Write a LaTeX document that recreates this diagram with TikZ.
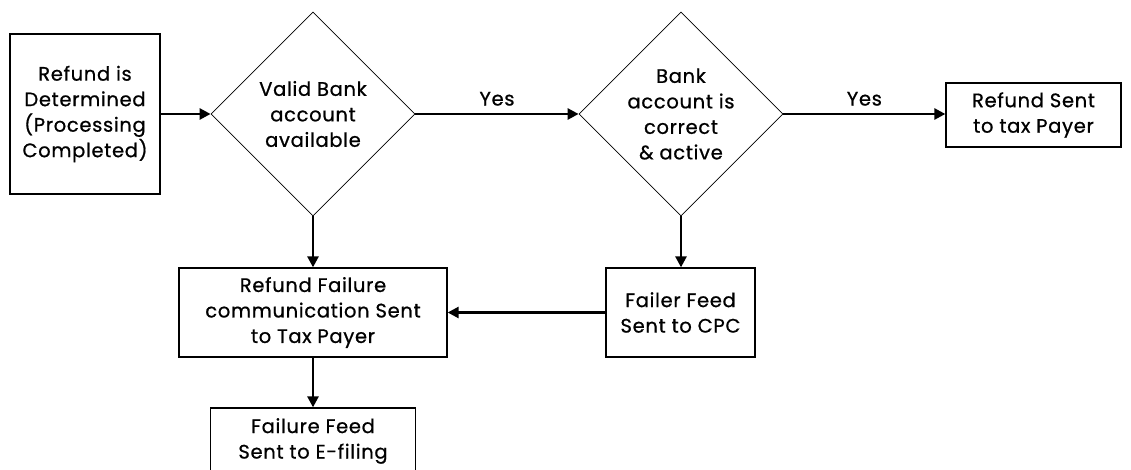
\documentclass[tikz,border=0pt]{standalone}
\usepackage{fontspec}
\setmainfont{Poppins}[LetterSpace=3.5,FakeBold=0.8]
\usetikzlibrary{shapes.geometric,arrows.meta}
\begin{document}
\begin{tikzpicture}[x=1pt,y=-1pt,
  txt/.style={font=\fontsize{19.5}{25.5}\selectfont, align=center, text=black},
  box/.style={txt, draw=black, line width=1.3pt, rectangle, inner sep=0pt},
  decision/.style={txt, draw=black, line width=0.8pt, diamond, shape aspect=1, inner sep=0pt, minimum width=204pt, minimum height=204pt},
  flow/.style={draw=black, line width=2.6pt, -{Triangle[length=11pt,width=11pt]}},
  lbl/.style={txt, inner sep=0pt}]
\useasboundingbox (0,0) rectangle (1131,470);
\clip (0,0) rectangle (1131,470);

\node[box, minimum width=150pt, minimum height=160pt] (start) at (85,114)
  {Refund is\\Determined\\(Processing\\Completed)};
\node[decision] (valid) at (313,114) {Valid Bank\\account\\available};
\node[decision] (correct) at (681,114) {Bank\\account is\\correct\\\& active};
\node[box, minimum width=175pt, minimum height=64pt] (sent) at (1033.5,115)
  {Refund Sent\\to tax Payer};
\node[box, minimum width=268pt, minimum height=89pt] (comm) at (313,312.5)
  {Refund Failure\\communication Sent\\to Tax Payer};
\node[box, minimum width=149pt, minimum height=89pt] (cpc) at (680.5,312.5)
  {Failer Feed\\Sent to CPC};
\node[box, minimum width=205pt, minimum height=66pt] (efile) at (313,441)
  {Failure Feed\\Sent to E-filing};

\draw[flow] (start) -- (valid.west);
\draw[flow] (valid.east) -- node[lbl, above=7pt] {Yes} (correct.west);
\draw[flow] (correct.east) -- node[lbl, above=7pt] {Yes} (sent.west |- correct.east);
\draw[flow] (valid.south) -- (comm.north);
\draw[flow] (correct.south) -- (cpc.north -| correct.south);
\draw[flow] (cpc.west) -- (comm.east);
\draw[flow] (comm.south) -- (efile.north);
\end{tikzpicture}
\end{document}
